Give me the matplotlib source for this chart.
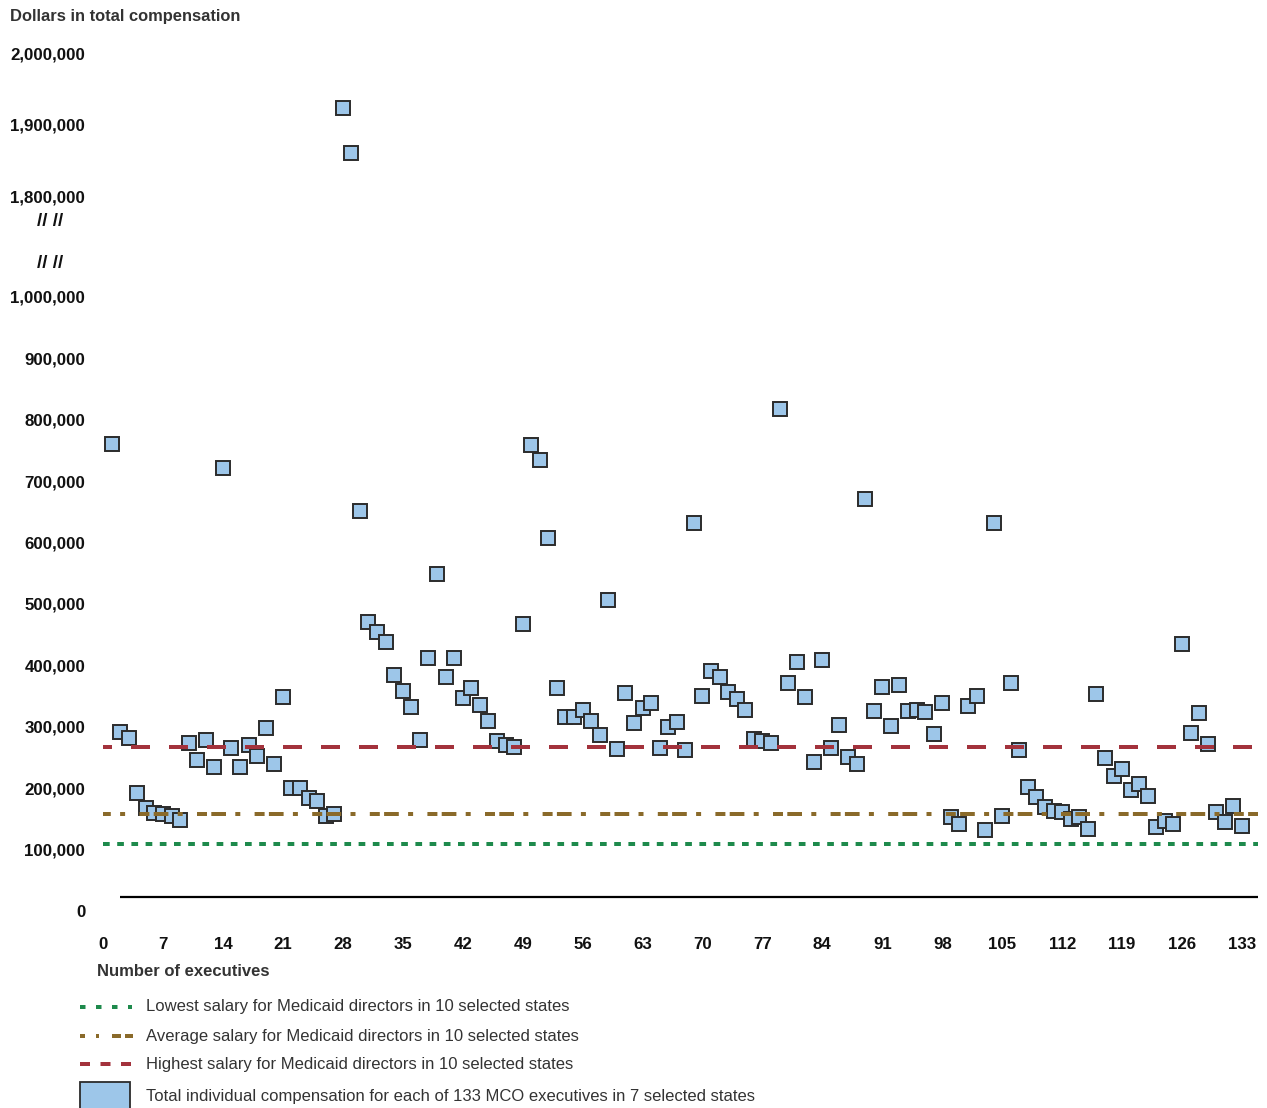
import matplotlib
matplotlib.use("Agg")
import matplotlib.pyplot as plt
from matplotlib.patches import Rectangle

plt.rcParams['font.family'] = ['Liberation Sans', 'DejaVu Sans']
plt.rcParams['lines.scale_dashes'] = False

# total compensation per MCO executive (1..133)
comp = [
    760000, 291000, 282000, 192000, 168000, 160000, 158000, 155000, 148000, 274000,
    246000, 278000, 235000, 721000, 265000, 235000, 270000, 252000, 298000, 239000,
    348000, 200000, 200000, 184000, 179000, 155000, 158000, 1923000, 1860000, 651000,
    470000, 454000, 438000, 384000, 358000, 332000, 278000, 412000, 549000, 381000,
    412000, 347000, 363000, 335000, 309000, 277000, 270000, 267000, 468000, 759000,
    734000, 607000, 363000, 316000, 316000, 327000, 309000, 287000, 506000, 264000,
    355000, 306000, 330000, 339000, 265000, 299000, 308000, 262000, 632000, 350000,
    391000, 381000, 357000, 346000, 328000, 280000, 277000, 274000, 818000, 371000,
    405000, 348000, 243000, 409000, 265000, 303000, 251000, 239000, 671000, 326000,
    365000, 301000, 368000, 326000, 327000, 324000, 288000, 339000, 153000, 142000,
    334000, 350000, 132000, 632000, 155000, 371000, 262000, 202000, 186000, 169000,
    163000, 161000, 150000, 153000, 134000, 353000, 249000, 220000, 231000, 197000,
    207000, 187000, 137000, 147000, 142000, 435000, 290000, 322000, 272000, 161000,
    145000, 171000, 138000]
executives = list(range(1, len(comp) + 1))

lowest = 109000
average = 158000
highest = 267000

xticks = list(range(0, 134, 7))
low_ticks = list(range(0, 1000001, 100000))
high_ticks = [1800000, 1900000, 2000000]

legend_labels = [
    "Lowest salary for Medicaid directors in 10 selected states",
    "Average salary for Medicaid directors in 10 selected states",
    "Highest salary for Medicaid directors in 10 selected states",
    "Total individual compensation for each of 133 MCO executives in 7 selected states",
]

c_fill = '#9dc6e9'
c_edge = '#2b2b2b'
c_red = '#a3323c'
c_brown = '#8a6a2a'
c_green = '#1e8a4c'
c_text = '#333333'

W, H = 1267, 1108
fig = plt.figure(figsize=(W / 100, H / 100), dpi=100)

def px_axes(l, t, r, b):
    return fig.add_axes([l / W, 1 - b / H, (r - l) / W, (b - t) / H])

P = 0.72  # px -> pt
xl, xr = -1, 135.5
left_px = 103 + xl * 8.5639
right_px = 103 + xr * 8.5639

ax_hi = px_axes(left_px, 38.7, right_px, 210.3)
ax_lo = px_axes(left_px, 284.7, right_px, 929.4)

red_ls = (10 * P, (19 * P, 19 * P))
brown_ls = (21.2 * P, (10 * P, 4.3 * P, 14.7 * P, 9.3 * P, 5 * P, 14.3 * P))
green_ls = (0, (6.7 * P, 7.5 * P))

for ax in (ax_lo, ax_hi):
    ax.plot(executives, comp, linestyle='none', marker='s', markersize=10,
            markerfacecolor=c_fill, markeredgecolor=c_edge, markeredgewidth=1.4, zorder=2)
    ax.set_xlim(xl, xr)
    for s in ax.spines.values():
        s.set_visible(False)
    ax.set_facecolor('none')

ax_lo.hlines(highest, 0, 134.9, color=c_red, lw=4 * P, linestyles=[red_ls], zorder=3, capstyle='butt')
ax_lo.hlines(average, 0, 134.9, color=c_brown, lw=4 * P, linestyles=[brown_ls], zorder=3)
ax_lo.hlines(lowest, 0, 134.9, color=c_green, lw=4 * P, linestyles=[green_ls], zorder=3)
ax_lo.hlines(22000, 2, 134.9, color='black', lw=1.6, zorder=3)

ax_lo.set_ylim(-30000, 1020000)
ax_hi.set_ylim(1780000, 2020000)

tick_fs = 12.2
ax_lo.set_yticks(low_ticks, labels=[f"{v:,}" for v in low_ticks], fontweight='bold', fontsize=tick_fs)
ax_hi.set_yticks(high_ticks, labels=[f"{v:,}" for v in high_ticks], fontweight='bold', fontsize=tick_fs)
ax_lo.set_xticks(xticks, labels=[str(v) for v in xticks], fontweight='bold', fontsize=tick_fs)
ax_hi.set_xticks([])
for ax in (ax_lo, ax_hi):
    ax.tick_params(axis='y', length=0, pad=6.6, colors='#111111')
ax_lo.tick_params(axis='x', length=0, pad=5.3, colors='#111111')

# overlay in pixel coordinates for the free texts and legend
ov = fig.add_axes([0, 0, 1, 1], zorder=-1)
ov.set_xlim(0, W)
ov.set_ylim(H, 0)
ov.axis('off')

ov.text(10, 16, "Dollars in total compensation", fontsize=11.9, fontweight='bold',
        color=c_text, va='center', ha='left')
for yy in (222, 263):
    ov.text(50, yy, "// //", fontsize=13.5, fontweight='bold', color='#111111',
            va='center', ha='center')
ov.text(97, 972, "Number of executives", fontsize=12, fontweight='bold',
        color=c_text, va='center', ha='left')

rows = [1007, 1036, 1064, 1097]
ov.plot([80, 132], [rows[0]] * 2, color=c_green, lw=4 * P,
        linestyle=(0, (5.5 * P, 10.5 * P)))
ov.plot([80, 133], [rows[1]] * 2, color=c_brown, lw=4 * P,
        linestyle=(0, (5 * P, 11 * P, 3 * P, 13 * P, 9 * P, 4 * P, 9 * P, 10 * P)))
ov.plot([80, 133], [rows[2]] * 2, color=c_red, lw=4 * P,
        linestyle=(0, (10 * P, 10.5 * P)))
ov.add_patch(Rectangle((80, 1082), 50, 36, facecolor=c_fill, edgecolor=c_edge, lw=1.3))
for yy, lab in zip(rows, legend_labels):
    ov.text(146, yy, lab, fontsize=12, color=c_text, va='center', ha='left')

fig.savefig("out.png", dpi=100)
